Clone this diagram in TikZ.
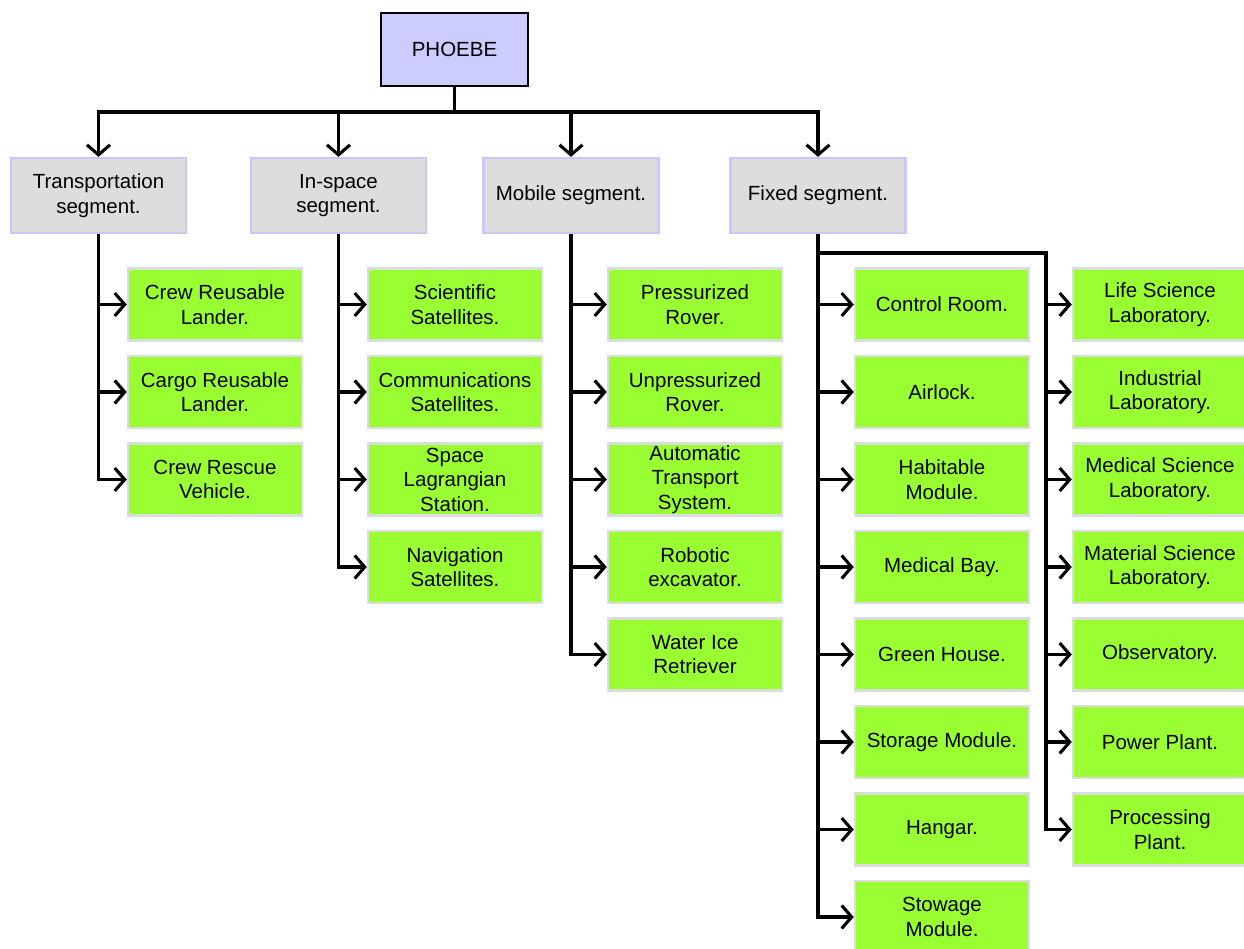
\documentclass[tikz,border=0pt]{standalone}
\usepackage{fontspec}
\setmainfont{Liberation Sans}
\usetikzlibrary{arrows.meta}
\definecolor{rootfill}{HTML}{CCCCFF}
\definecolor{segfill}{HTML}{DDDDDD}
\definecolor{segline}{HTML}{C8C8FA}
\definecolor{leaffill}{HTML}{99FF33}
\definecolor{leafline}{HTML}{DCDCDC}
\tikzset{
  rootbox/.style={draw=black, line width=2.8pt, fill=rootfill, minimum width=147pt, minimum height=73pt, inner sep=0pt, align=center, font=\fontsize{20.5}{24.5}\selectfont},
  segbox/.style={draw=segline, line width=2.2pt, fill=segfill, minimum width=175pt, minimum height=75pt, inner sep=0pt, align=center, font=\fontsize{20.5}{24.5}\selectfont},
  leafbox/.style={draw=leafline, line width=2.5pt, fill=leaffill, minimum width=174pt, minimum height=72pt, inner sep=0pt, align=center, font=\fontsize{20.5}{24.5}\selectfont},
  conn/.style={draw=black, line width=3.1pt, -{Straight Barb[length=10pt,width=23pt]}},
}
\begin{document}
\begin{tikzpicture}[x=1pt,y=-1pt]
\useasboundingbox[fill=white] (0,0) rectangle (1244,949);
% root
\node[rootbox] (phoebe) at (454.5,49.5) {PHOEBE};
% segments
\node[segbox] (trans) at (98.5,195.5) {Transportation\\segment.};
\node[segbox] (insp) at (338.5,195.5) {In-space\\segment.};
\node[segbox] (mob) at (571,195.5) {Mobile segment.};
\node[segbox] (fix) at (818,195.5) {Fixed segment.};
\coordinate (bus) at (454.5,112);
\foreach \s in {trans,insp,mob,fix}{
  \draw[conn] (phoebe.south) -- (bus) -| (\s.north);
}
% column 1
\node[leafbox] (c1a) at (215,304.5) {Crew Reusable\\Lander.};
\node[leafbox] (c1b) at (215,392) {Cargo Reusable\\Lander.};
\node[leafbox] (c1c) at (215,479.5) {Crew Rescue\\Vehicle.};
\foreach \n in {c1a,c1b,c1c}{\draw[conn] (trans.south) |- (\n.west);}
% column 2
\node[leafbox] (c2a) at (455,304.5) {Scientific\\Satellites.};
\node[leafbox] (c2b) at (455,392) {Communications\\Satellites.};
\node[leafbox] (c2c) at (455,479.5) {Space\\Lagrangian\\Station.};
\node[leafbox] (c2d) at (455,567) {Navigation\\Satellites.};
\foreach \n in {c2a,c2b,c2c,c2d}{\draw[conn] (insp.south) |- (\n.west);}
% column 3
\node[leafbox] (c3a) at (695,304.5) {Pressurized\\Rover.};
\node[leafbox] (c3b) at (695,392) {Unpressurized\\Rover.};
\node[leafbox] (c3c) at (695,479.5) {Automatic\\Transport\\System.};
\node[leafbox] (c3d) at (695,567) {Robotic\\excavator.};
\node[leafbox] (c3e) at (695,654.5) {Water Ice\\Retriever};
\foreach \n in {c3a,c3b,c3c,c3d,c3e}{\draw[conn] (mob.south) |- (\n.west);}
% column 4
\node[leafbox] (c4a) at (942,304.5) {Control Room.};
\node[leafbox] (c4b) at (942,392) {Airlock.};
\node[leafbox] (c4c) at (942,479.5) {Habitable\\Module.};
\node[leafbox] (c4d) at (942,567) {Medical Bay.};
\node[leafbox] (c4e) at (942,654.5) {Green House.};
\node[leafbox] (c4f) at (942,742) {Storage Module.};
\node[leafbox] (c4g) at (942,829.5) {Hangar.};
\node[leafbox] (c4h) at (942,917) {Stowage\\Module.};
\foreach \n in {c4a,c4b,c4c,c4d,c4e,c4f,c4g,c4h}{\draw[conn] (fix.south) |- (\n.west);}
% column 5
\node[leafbox] (c5a) at (1160,304.5) {Life Science\\Laboratory.};
\node[leafbox] (c5b) at (1160,392) {Industrial\\Laboratory.};
\node[leafbox] (c5c) at (1160,479.5) {Medical Science\\Laboratory.};
\node[leafbox] (c5d) at (1160,567) {Material Science\\Laboratory.};
\node[leafbox] (c5e) at (1160,654.5) {Observatory.};
\node[leafbox] (c5f) at (1160,742) {Power Plant.};
\node[leafbox] (c5g) at (1160,829.5) {Processing\\Plant.};
\coordinate (fj) at (1046,253);
\foreach \n in {c5a,c5b,c5c,c5d,c5e,c5f,c5g}{\draw[conn] (fix.south) |- (fj) |- (\n.west);}
\end{tikzpicture}
\end{document}
